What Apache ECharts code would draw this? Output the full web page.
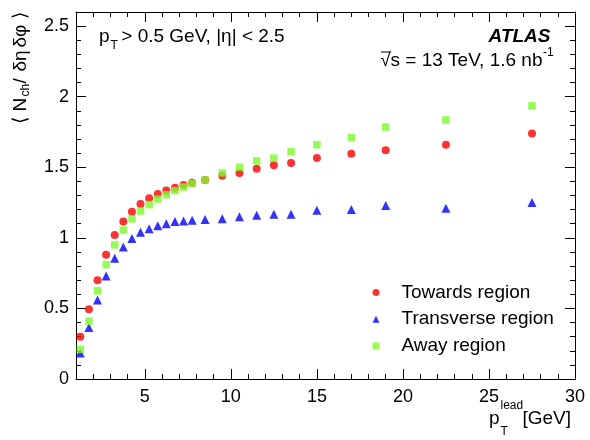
<!DOCTYPE html>
<html>
<head>
<meta charset="utf-8">
<script src="https://cdn.jsdelivr.net/npm/echarts@6/dist/echarts.min.js"></script>
<style>html,body{margin:0;padding:0;background:#fff;}#c{width:590px;height:440px;}</style>
</head>
<body>
<div id="c"></div>
<script>
const ptLeadCenters = [1.25,1.75,2.25,2.75,3.25,3.75,4.25,4.75,5.25,5.75,6.25,6.75,7.25,7.75,8.5,9.5,10.5,11.5,12.5,13.5,15,17,19,22.5,27.5];
const towards = [0.30,0.495,0.70,0.88,1.02,1.115,1.185,1.24,1.28,1.31,1.335,1.355,1.375,1.39,1.41,1.44,1.46,1.49,1.515,1.53,1.565,1.595,1.62,1.66,1.74];
const transverse = [0.185,0.365,0.56,0.73,0.855,0.935,0.995,1.04,1.065,1.085,1.10,1.115,1.12,1.125,1.13,1.135,1.15,1.16,1.168,1.168,1.195,1.20,1.23,1.21,1.25];
const away = [0.21,0.41,0.625,0.81,0.95,1.055,1.135,1.19,1.235,1.275,1.305,1.335,1.36,1.385,1.41,1.46,1.50,1.545,1.565,1.61,1.66,1.71,1.785,1.835,1.935];
const xTickLabels = [5,10,15,20,25,30];
const yTickLabels = [0,0.5,1,1.5,2,2.5];
const seriesNames = ['Towards region','Transverse region','Away region'];

const FF = '"Liberation Sans", Arial, Helvetica, sans-serif';
const chart = echarts.init(document.getElementById('c'), null, {renderer:'canvas'});

function zip(xs, ys){ return xs.map((x,i)=>[x, ys[i]]); }

function xAx(pos, major){
  return {
    type:'value', position:pos, min:1, max:30,
    interval: major ? undefined : 1,
    axisLine:{show: major, onZero:false, lineStyle:{color:'#000', width:1}},
    axisTick: major ? {show:true, inside:true, length:10, customValues:xTickLabels, lineStyle:{color:'#000'}}
                    : {show:true, inside:true, length:5, lineStyle:{color:'#000'}},
    axisLabel: (major && pos==='bottom') ? {show:true, customValues:xTickLabels, fontSize:18, color:'#000', margin:9, fontFamily:FF} : {show:false},
    splitLine:{show:false}
  };
}
function yAx(pos, major){
  return {
    type:'value', position:pos, min:0, max:2.6,
    interval: major ? undefined : 0.1,
    axisLine:{show: major, onZero:false, lineStyle:{color:'#000', width:1}},
    axisTick: major ? {show:true, inside:true, length:10, customValues:yTickLabels, lineStyle:{color:'#000'}}
                    : {show:true, inside:true, length:5, lineStyle:{color:'#000'}},
    axisLabel: (major && pos==='left') ? {show:true, customValues:yTickLabels, fontSize:18, color:'#000', margin:7, fontFamily:FF} : {show:false},
    splitLine:{show:false}
  };
}

const T = (text, x, y, fs, extra) => Object.assign({
  type:'text', x:x, y:y, silent:true,
  style:Object.assign({text:text, fontSize:fs, fontFamily:FF, fill:'#000', align:'left', verticalAlign:'middle'}, extra||{})
});

const option = {
  animation:false,
  backgroundColor:'#fff',
  grid:{left:76, right:15, top:12, bottom:61, containLabel:false},
  xAxis:[xAx('bottom',true), xAx('bottom',false), xAx('top',true), xAx('top',false)],
  yAxis:[yAx('left',true), yAx('left',false), yAx('right',true), yAx('right',false)],
  legend:{
    orient:'vertical', left:372.5, top:282.5, padding:0,
    itemWidth:7, itemHeight:7, itemGap:6.7,
    textStyle:{fontSize:19, color:'#000', fontFamily:FF, lineHeight:20, padding:[0,0,0,17]},
    data:seriesNames
  },
  series:[
    {name:seriesNames[0], type:'scatter', symbol:'circle', symbolSize:8, itemStyle:{color:'#ff0000'}, data:zip(ptLeadCenters, towards), z:3},
    {name:seriesNames[1], type:'scatter', symbol:'triangle', symbolSize:9, itemStyle:{color:'#0000ff'}, data:zip(ptLeadCenters, transverse), z:2},
    {name:seriesNames[2], type:'scatter', symbol:'rect', symbolSize:7.5, itemStyle:{color:'#7dfa2d'}, data:zip(ptLeadCenters, away), z:4}
  ],
  graphic:[
    T('p', 99, 37, 19),
    T('T', 110.5, 46, 12),
    T(' > 0.5 GeV, |η| < 2.5', 116, 37, 19),
    T('ATLAS', 550.5, 36.5, 19, {align:'right', fontWeight:'bold', fontStyle:'italic'}),
    T('√s = 13 TeV, 1.6 nb', 542.5, 60.5, 19, {align:'right'}),
    T('-1', 543, 52.5, 12),
    {type:'line', silent:true, shape:{x1:381, y1:52, x2:391, y2:52}, style:{stroke:'#000', lineWidth:1}},
    T('p', 489, 419, 19),
    T('lead', 500.5, 406, 12),
    T('T', 500.5, 432, 12),
    T('[GeV]', 571, 419, 19, {align:'right'}),
    {type:'group', x:20.5, y:123.5, rotation:Math.PI/2, silent:true, children:[
      T('⟨', 0, 0, 19),
      T('N', 12, 0, 19),
      T('ch', 27, 5, 12),
      T('/', 40, 0, 19),
      T('δη', 52, 0, 19),
      T('δφ', 76, 0, 19),
      T('⟩', 105, 0, 19)
    ]}
  ]
};
chart.setOption(option);
</script>
</body>
</html>
